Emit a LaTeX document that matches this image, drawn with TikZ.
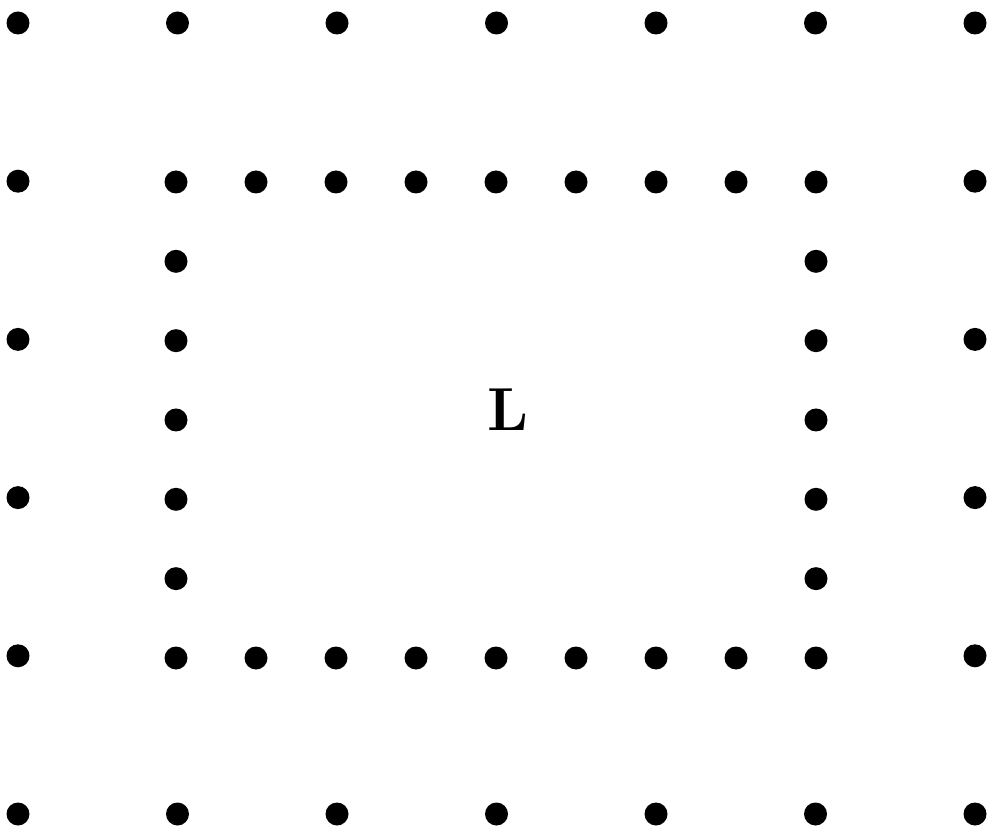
\documentclass[tikz,border=0pt]{standalone}
\usepackage{tikz}
\usetikzlibrary{positioning}
\begin{document}
\begin{tikzpicture}[
    x=0.1mm, y=-0.1mm,
    dot/.style={circle, fill=black, inner sep=0pt, minimum size=2.3mm},
    letter/.style={font=\LARGE\bfseries}
]
\useasboundingbox (0,0) rectangle (1001,834);
% outer ring of dots
\foreach \i in {0,...,6} {
  \node[dot] (otop\i) at ({18+159.5*\i},23) {};
  \node[dot] (obot\i) at ({18+159.5*\i},814) {};
}
\foreach \j in {1,...,4} {
  \node[dot] (olft\j) at (18,{23+158.2*\j}) {};
  \node[dot] (orgt\j) at (975,{23+158.2*\j}) {};
}
% inner ring of dots
\foreach \i in {0,...,8} {
  \node[dot] (itop\i) at ({176+80*\i},182) {};
  \node[dot] (ibot\i) at ({176+80*\i},658) {};
}
\foreach \j in {1,...,5} {
  \node[dot] (ilft\j) at (176,{182+79.33*\j}) {};
  \node[dot] (irgt\j) at (816,{182+79.33*\j}) {};
}
\node[letter] (ell) at (508,410) {L};
\end{tikzpicture}
\end{document}
